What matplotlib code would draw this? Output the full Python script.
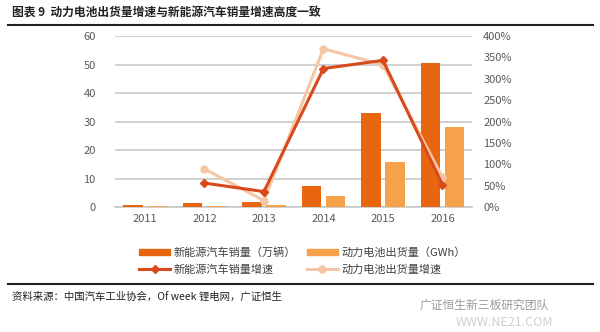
import numpy as np
import matplotlib.pyplot as plt
from matplotlib.patches import Patch
from matplotlib.lines import Line2D

plt.rcParams['font.family'] = ['Noto Sans CJK SC', 'DejaVu Sans']

years = ['2011', '2012', '2013', '2014', '2015', '2016']
ev_sales = [0.8, 1.3, 1.8, 7.5, 33.1, 50.7]        # 万辆
battery_gwh = [0.2, 0.5, 0.8, 3.7, 15.7, 28.0]     # GWh
ev_growth = [None, 56, 36, 324, 343, 52]           # %
battery_growth = [None, 89, 15, 370, 333, 70]      # %

c_sales = '#E8660F'
c_batt = '#F6A24B'
c_sales_line = '#D84A1B'
c_batt_line = '#F4C6A4'
grey_txt = '#595959'

fig = plt.figure(figsize=(6, 3.32), dpi=100)
ax = fig.add_axes([0.192, 0.3765, 0.595, 0.515])
ax2 = ax.twinx()

x = np.arange(len(years))
w = 0.33
ax.bar(x - 0.2, ev_sales, w, color=c_sales, zorder=3)
ax.bar(x + 0.2, battery_gwh, w, color=c_batt, zorder=3)

gx = x[1:]
ax2.plot(gx, battery_growth[1:], color=c_batt_line, lw=2.2, marker='o', ms=5, zorder=4)
ax2.plot(gx, ev_growth[1:], color=c_sales_line, lw=2.2, marker='D', ms=4, zorder=5)

ax.set_xlim(-0.5, 5.5)
ax.set_ylim(0, 60)
ax.set_yticks(range(0, 61, 10))
ax2.set_ylim(0, 400)
ax2.set_yticks(range(0, 401, 50))
ax2.set_yticklabels([f'{v}%' for v in range(0, 401, 50)])
ax.set_xticks(x)
ax.set_xticklabels(years)

ax.yaxis.grid(True, color='#C8C8C8', lw=1.2, zorder=0)
ax.set_axisbelow(True)
for a in (ax, ax2):
    for s in a.spines.values():
        s.set_visible(False)
    a.tick_params(length=0, labelsize=8, colors=grey_txt)
ax.tick_params(axis='y', pad=14)
ax2.tick_params(axis='y', pad=8)
ax.tick_params(axis='x', pad=5)
ax.spines['bottom'].set_visible(True)
ax.spines['bottom'].set_color('#C8C8C8')
ax.spines['bottom'].set_linewidth(1.2)

handles = [
    Patch(color=c_sales, label='新能源汽车销量（万辆）'),
    Line2D([], [], color=c_sales_line, lw=2.2, marker='D', ms=4, label='新能源汽车销量增速'),
    Patch(color=c_batt, label='动力电池出货量（GWh）'),
    Line2D([], [], color=c_batt_line, lw=2.2, marker='o', ms=5, label='动力电池出货量增速'),
]
fig.legend(handles=handles, ncol=2, loc='upper left', bbox_to_anchor=(0.215, 0.285),
           frameon=False, fontsize=8, handlelength=2.8, handleheight=0.5,
           columnspacing=1.0, labelspacing=0.55, handletextpad=0.3, labelcolor='#404040')

# title and rules
fig.text(0.02, 0.962, '图表 9  动力电池出货量增速与新能源汽车销量增速高度一致',
         fontsize=8.5, fontweight='bold', color='#222222', va='center')
fig.add_artist(Line2D([0.013, 0.988], [0.925, 0.925], color='#222222', lw=1.5))
fig.add_artist(Line2D([0.013, 0.988], [0.145, 0.145], color='#222222', lw=1.5))
fig.text(0.02, 0.105, '资料来源：中国汽车工业协会，Of week 锂电网，广证恒生',
         fontsize=7.5, color='#222222', va='center')
fig.text(0.70, 0.08, '广证恒生新三板研究团队', fontsize=8.5, color='#9A9A9A', va='center')
fig.text(0.76, 0.03, 'WWW.NE21.COM', fontsize=9, color='#D0D0D0', va='center')

fig.savefig('out.png', dpi=100)
